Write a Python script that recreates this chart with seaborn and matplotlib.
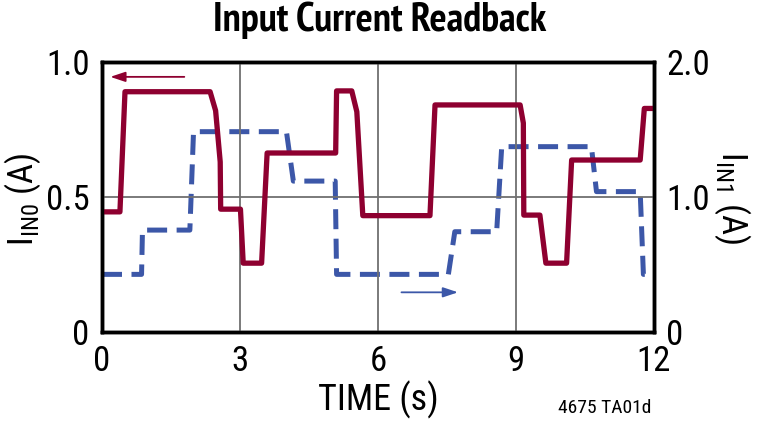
import matplotlib
matplotlib.use("Agg")
import matplotlib.pyplot as plt
import seaborn as sns
import pandas as pd

# red trace, I_IN0 (left axis, A)
t_in0 = [0, 0.39, 0.5, 2.35, 2.47, 2.57, 2.58, 3.01, 3.07, 3.47, 3.59, 5.08, 5.1, 5.43,
         5.54, 5.67, 7.13, 7.24, 9.09, 9.16, 9.17, 9.52, 9.65, 10.1, 10.21, 11.7, 11.79, 12]
i_in0 = [0.445, 0.445, 0.89, 0.89, 0.82, 0.63, 0.455, 0.455, 0.255, 0.255, 0.663, 0.663, 0.893, 0.893,
         0.816, 0.431, 0.431, 0.841, 0.841, 0.774, 0.433, 0.433, 0.255, 0.255, 0.637, 0.637, 0.828, 0.828]

# blue dashed trace, I_IN1 (right axis, A)
t_in1 = [0, 0.86, 0.88, 1.91, 1.99, 4.01, 4.16, 5.07, 5.1, 7.53, 7.67, 8.58, 8.69,
         10.64, 10.75, 11.7, 11.77, 12]
i_in1 = [0.427, 0.427, 0.755, 0.755, 1.484, 1.484, 1.118, 1.118, 0.427, 0.427, 0.743, 0.743, 1.373,
         1.373, 1.04, 1.04, 0.427, 0.427]

x_ticks = [0, 3, 6, 9, 12]
left_ticks = [0, 0.5, 1.0]
left_labels = ["0", "0.5", "1.0"]
right_ticks = [0, 1.0, 2.0]
right_labels = ["0", "1.0", "2.0"]

red = "#8E0030"
blue = "#3C57A8"

sns.set_style("white")
plt.rcParams["font.family"] = ["Roboto Condensed", "DejaVu Sans"]
plt.rcParams["mathtext.fontset"] = "custom"
plt.rcParams["mathtext.rm"] = "Roboto Condensed"
plt.rcParams["text.color"] = "black"
plt.rcParams["axes.labelcolor"] = "black"
plt.rcParams["xtick.color"] = "black"
plt.rcParams["ytick.color"] = "black"

fig = plt.figure(figsize=(7.6, 4.23), dpi=100)
ax = fig.add_axes([0.1342, 0.2151, 0.7263, 0.6383])
ax2 = ax.twinx()

df0 = pd.DataFrame({"t": t_in0, "i": i_in0})
df1 = pd.DataFrame({"t": t_in1, "i": i_in1})

sns.lineplot(data=df1, x="t", y="i", ax=ax2, color=blue, lw=3.6, sort=False,
             estimator=None, linestyle=(0, (4, 1.9)))
sns.lineplot(data=df0, x="t", y="i", ax=ax, color=red, lw=3.8, sort=False, estimator=None)
ax.set_zorder(ax2.get_zorder() + 1)
ax.patch.set_visible(False)

ax.set_xlim(0, 12)
ax.set_ylim(0, 1.0)
ax2.set_ylim(0, 2.0)
ax.set_xticks(x_ticks)
ax.set_xticklabels([str(v) for v in x_ticks])
ax.set_yticks(left_ticks)
ax.set_yticklabels(left_labels)
ax2.set_yticks(right_ticks)
ax2.set_yticklabels(right_labels)

ax.grid(True, color="#707070", lw=1.3)
ax2.grid(False)
ax.tick_params(length=0, labelsize=25, pad=9)
ax2.tick_params(length=0, labelsize=25, pad=9)
for a in (ax, ax2):
    for s in a.spines.values():
        s.set_linewidth(2.5)
        s.set_color("black")

ax.set_xlabel("TIME (s)", fontsize=26, labelpad=2)
ax.set_ylabel(r"I$_{\mathregular{IN0}}$ (A)", fontsize=25)
ax.yaxis.set_label_coords(-0.106, 0.49)
ax2.set_ylabel(r"I$_{\mathregular{IN1}}$ (A)", fontsize=25, rotation=270, labelpad=30)

fig.text(0.5, 0.952, "Input Current Readback", ha="center", va="center",
         fontsize=29, fontweight="bold", family="PT Sans Narrow")
fig.text(0.796, 0.035, "4675 TA01d", ha="center", va="center", fontsize=14)

# direction arrows: red -> left axis, blue -> right axis
ax.annotate("", xy=(0.12, 0.945), xytext=(1.85, 0.945),
            arrowprops=dict(arrowstyle="-|>,head_length=0.9,head_width=0.3", color=red, lw=1.3))
ax.annotate("", xy=(7.8, 0.147), xytext=(6.45, 0.147),
            arrowprops=dict(arrowstyle="-|>,head_length=0.9,head_width=0.3", color=blue, lw=1.3))

fig.savefig("out.png", dpi=100)
